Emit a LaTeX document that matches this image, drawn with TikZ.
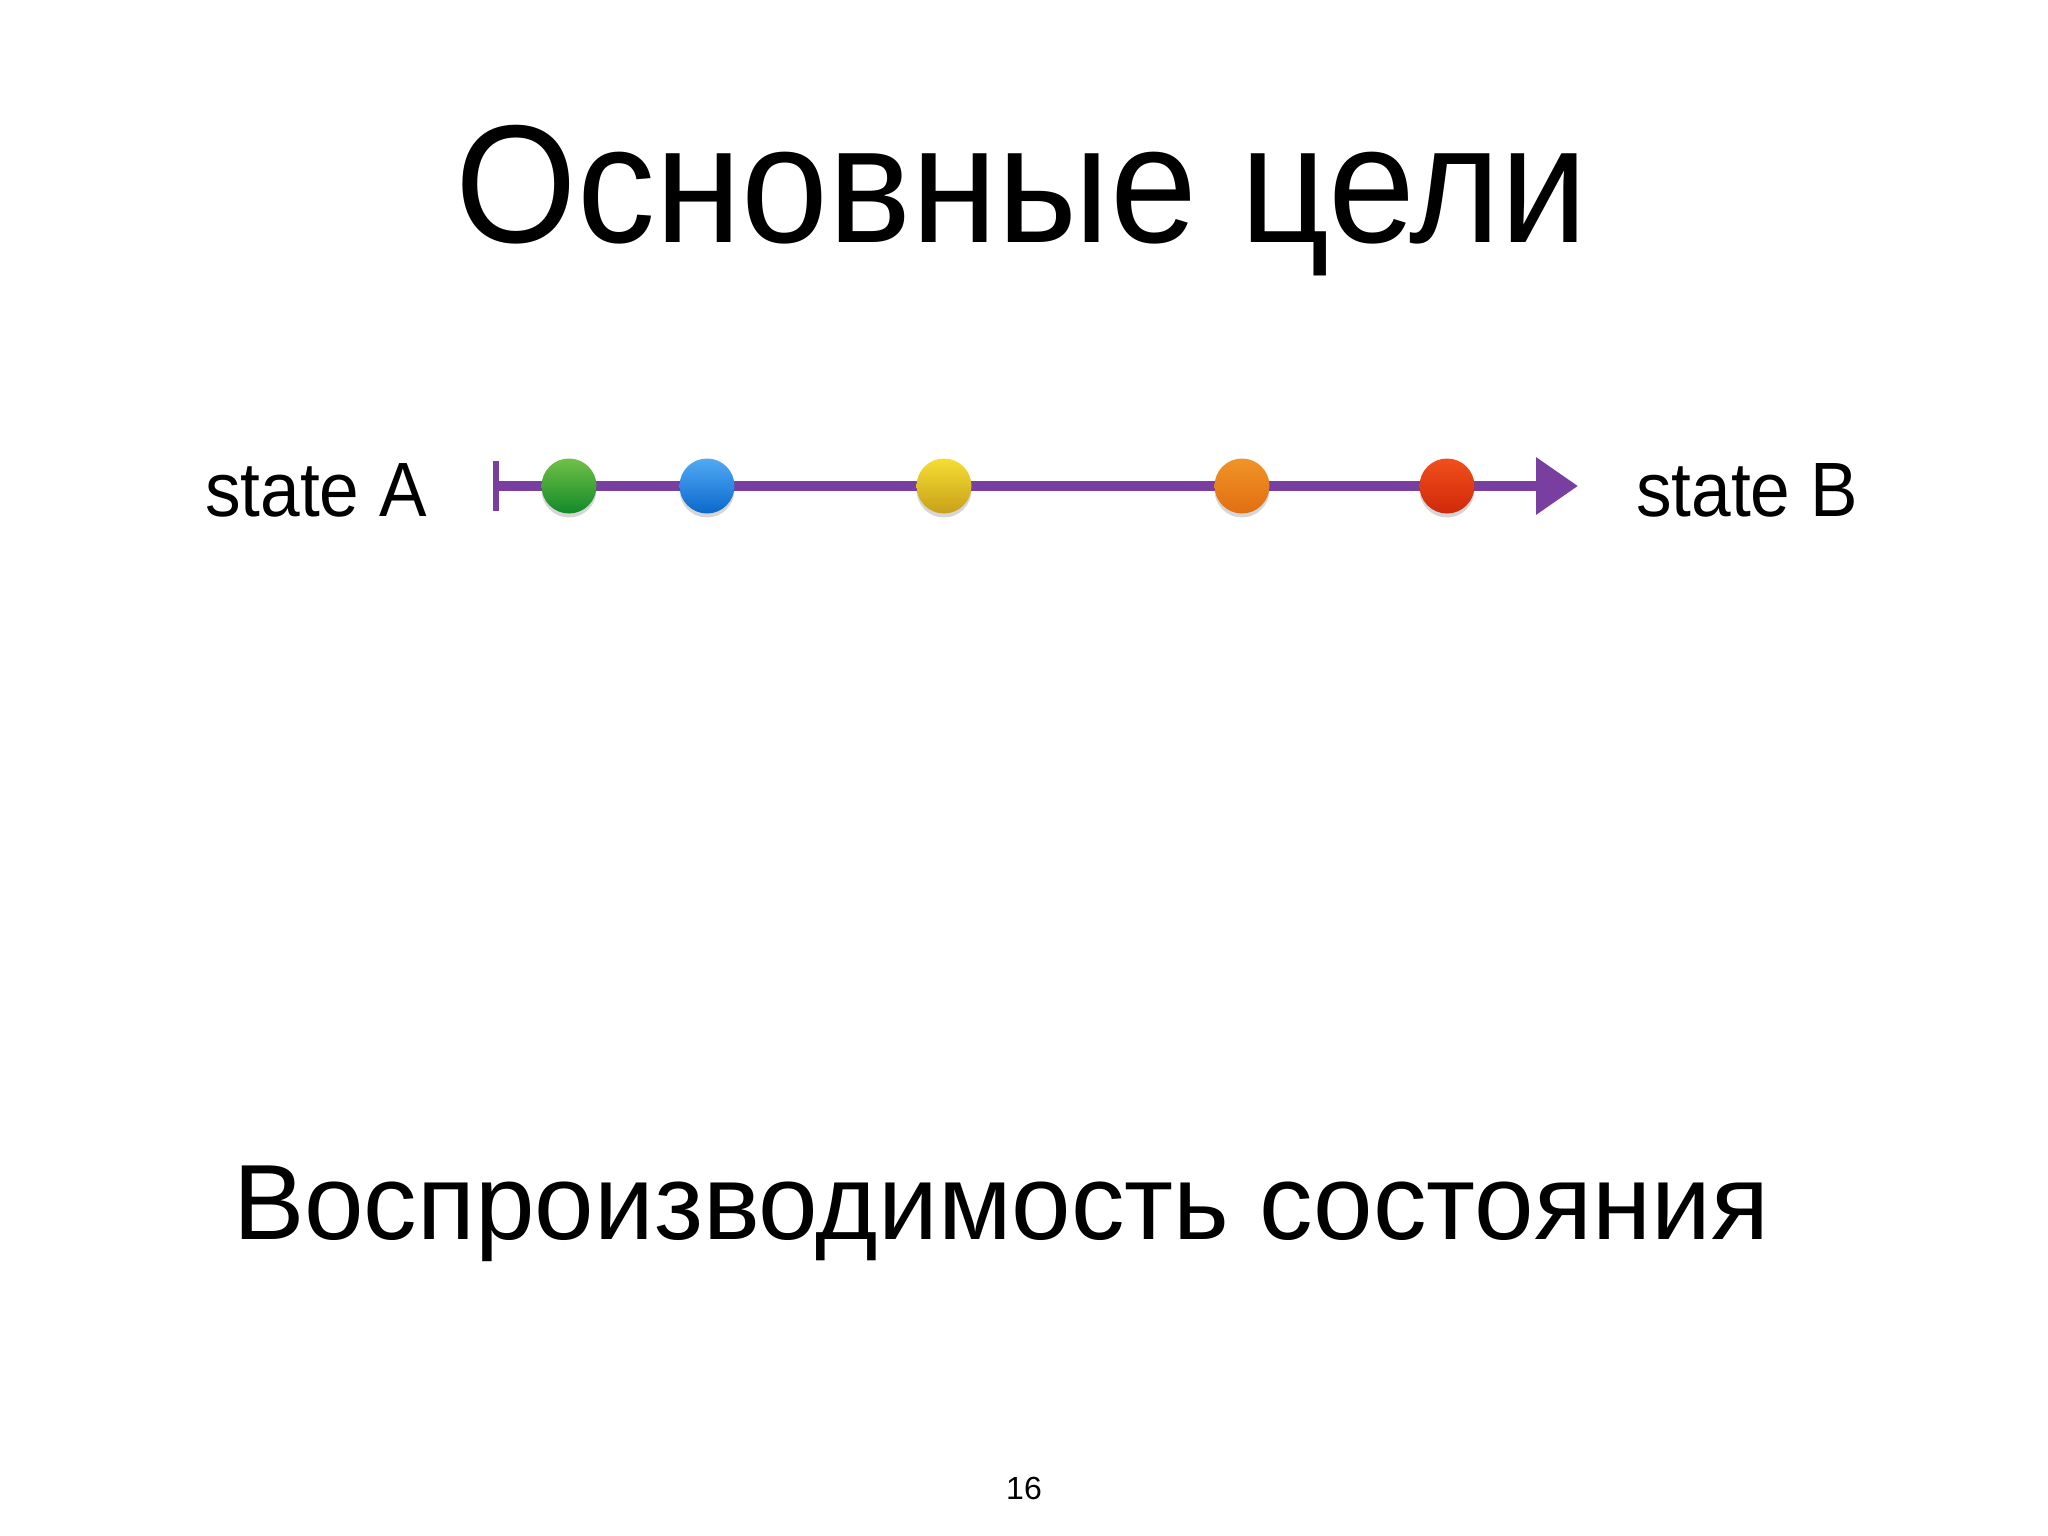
\documentclass[tikz,border=0pt]{standalone}
\usepackage{fontspec}
\setmainfont{Liberation Sans}
\usetikzlibrary{arrows.meta,shadings}
\definecolor{crayon}{RGB}{120,62,160}
\tikzset{
  txt/.style={inner sep=0pt, outer sep=0pt, text=black},
  ball/.style={circle, minimum size=55pt, inner sep=0pt, shading=axis, shading angle=0},
  shadowball/.style={circle, minimum size=55pt, inner sep=0pt, fill=black, fill opacity=0.16},
}
\begin{document}
\begin{tikzpicture}[x=1pt,y=-1pt]
\useasboundingbox (0,0) rectangle (2048,1536);
\fill[white] (0,0) rectangle (2048,1536);
% title
\node[txt, anchor=base, xscale=0.93] (title) at (1022,242) {\fontsize{168}{180}\selectfont Основные цели};
% labels
\node[txt, anchor=base west, xscale=0.925] (sa) at (205,516) {\fontsize{77}{90}\selectfont state A};
\node[txt, anchor=base west, xscale=0.925] (sb) at (1636,516) {\fontsize{77}{90}\selectfont state B};
% line
\coordinate (start) at (493,486);
\coordinate (end) at (1578,486);
\draw[crayon, line width=10pt, {Bar[width=50pt,line width=6pt]}-{Triangle[length=42pt,width=55pt]}] (start) -- (end);
% shadows
\foreach \x in {569,707,944,1242,1447}{
  \node[shadowball] at (\x,490) {};
}
% balls
\node[ball, top color={rgb,255:red,112;green,192;blue,72}, bottom color={rgb,255:red,18;green,138;blue,40}] (g) at (569,486) {};
\node[ball, top color={rgb,255:red,82;green,170;blue,245}, bottom color={rgb,255:red,10;green,104;blue,204}] (b) at (707,486) {};
\node[ball, top color={rgb,255:red,246;green,222;blue,52}, bottom color={rgb,255:red,200;green,160;blue,26}] (y) at (944,486) {};
\node[ball, top color={rgb,255:red,240;green,148;blue,40}, bottom color={rgb,255:red,226;green,110;blue,16}] (o) at (1242,486) {};
\node[ball, top color={rgb,255:red,240;green,80;blue,28}, bottom color={rgb,255:red,208;green,40;blue,10}] (r) at (1447,486) {};
% subtitle
\node[txt, anchor=base west] (sub) at (233,1239) {\fontsize{107}{120}\selectfont Воспроизводимость состояния};
% page number
\node[txt, anchor=base] (pg) at (1024,1499) {\fontsize{32}{36}\selectfont 16};
\end{tikzpicture}
\end{document}
